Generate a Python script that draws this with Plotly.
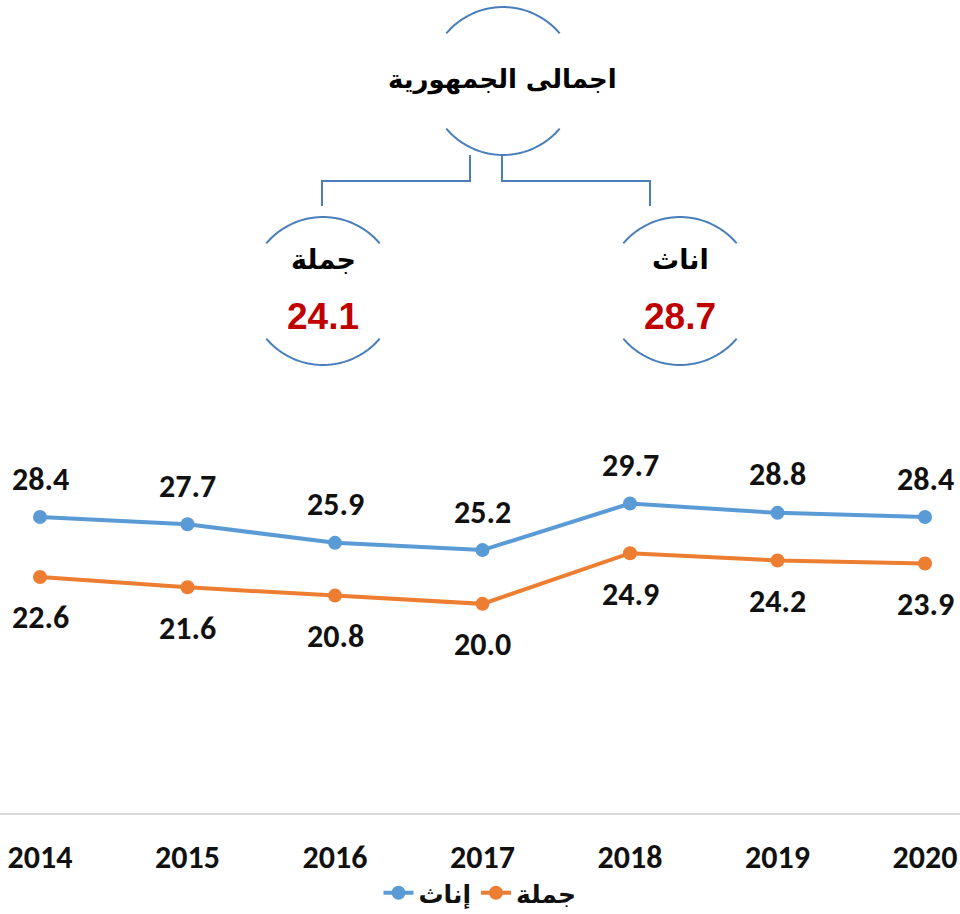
import numpy as np
import plotly.graph_objects as go

# ---------------- data ----------------
years = ["2014", "2015", "2016", "2017", "2018", "2019", "2020"]
females = [28.4, 27.7, 25.9, 25.2, 29.7, 28.8, 28.4]
total = [22.6, 21.6, 20.8, 20.0, 24.9, 24.2, 23.9]
series_names = ["إناث", "جملة"]
title_text = "اجمالى الجمهورية"
summary_labels = ["جملة", "اناث"]
summary_values = [24.1, 28.7]

# ---------------- styling ----------------
BLUE = "#5B9BD5"
ORANGE = "#ED7D31"
ARC = "#4A7EBB"
RED = "#C00000"
W, H_FIG = 960, 914
T, B = 400, 813
PH = B - T


def px(x):
    return x / W


def py(y):
    return (B - y) / PH


def arc(cx, cy, r, a0, a1, n=40):
    a = np.radians(np.linspace(a0, a1, n))
    xs = cx + r * np.cos(a)
    ys = cy - r * np.sin(a)
    return "M " + " L ".join(f"{px(x):.5f},{py(y):.5f}" for x, y in zip(xs, ys))


def poly(pts):
    return "M " + " L ".join(f"{px(x):.5f},{py(y):.5f}" for x, y in pts)


fig = go.Figure()
fig.add_trace(go.Scatter(
    x=years, y=females, name=series_names[0], mode="lines+markers",
    line=dict(color=BLUE, width=4), marker=dict(color=BLUE, size=14),
    hoverinfo="skip"))
fig.add_trace(go.Scatter(
    x=years, y=total, name=series_names[1], mode="lines+markers",
    line=dict(color=ORANGE, width=4), marker=dict(color=ORANGE, size=14),
    hoverinfo="skip"))

label_font = dict(family="Carlito, Lato, Open Sans, sans-serif", size=32, color="#111111", weight="bold")
annotations = []
for i, v in enumerate(females):
    annotations.append(dict(x=i, y=v, xref="x", yref="y", text=f"{v:.1f}",
                            xanchor="center", yanchor="middle",
                            showarrow=False, yshift=38, font=label_font))
for i, v in enumerate(total):
    annotations.append(dict(x=i, y=v, xref="x", yref="y", text=f"{v:.1f}",
                            xanchor="center", yanchor="middle",
                            showarrow=False, yshift=-41, font=label_font))

# top diagram
arab_font = dict(family="DejaVu Sans, Noto Sans, sans-serif", color="#000000", weight="bold")
annotations.append(dict(x=px(502), y=py(80), xref="paper", yref="paper", text=title_text,
                        xanchor="center", yanchor="middle",
                        showarrow=False, font=dict(**arab_font, size=26)))
centers = [(323, 291), (680, 291)]
for (cx, cy), lab, val in zip(centers, summary_labels, summary_values):
    annotations.append(dict(x=px(cx), y=py(259), xref="paper", yref="paper", text=lab,
                            xanchor="center", yanchor="middle",
                            showarrow=False, font=dict(**arab_font, size=27)))
    annotations.append(dict(x=px(cx), y=py(316), xref="paper", yref="paper", text=f"{val:.1f}",
                            xanchor="center", yanchor="middle",
                            showarrow=False,
                            font=dict(family="Liberation Sans, Arial, sans-serif", size=37,
                                      color=RED, weight="bold")))

shapes = []
line_style = dict(color=ARC, width=2)
for (cx, cy) in [(503, 81)] + centers:
    shapes.append(dict(type="path", xref="paper", yref="paper", path=arc(cx, cy, 74, 40, 140), line=line_style))
    shapes.append(dict(type="path", xref="paper", yref="paper", path=arc(cx, cy, 74, 220, 320), line=line_style))
shapes.append(dict(type="path", xref="paper", yref="paper",
                   path=poly([(470, 155), (470, 181), (322, 181), (322, 206)]), line=line_style))
shapes.append(dict(type="path", xref="paper", yref="paper",
                   path=poly([(502, 155), (502, 181), (650, 181), (650, 206)]), line=line_style))

x0 = -40 / 147.5
x1 = 6 + (W - 925) / 147.5
ppu = 10.34
y0 = 28.4 - (B - 517) / ppu
y1 = y0 + PH / ppu

fig.update_layout(
    width=W, height=H_FIG,
    margin=dict(l=0, r=0, t=T, b=H_FIG - B, pad=0, autoexpand=False),
    paper_bgcolor="white", plot_bgcolor="white",
    showlegend=True,
    legend=dict(orientation="h", x=0.5, xanchor="center", y=py(893), yanchor="middle",
                font=dict(family="DejaVu Sans, sans-serif", size=25, color="#111111", weight="bold"),
                bgcolor="rgba(0,0,0,0)"),
    xaxis=dict(type="category", range=[x0, x1], showgrid=False, zeroline=False,
               showline=True, linecolor="#D9D9D9", linewidth=2,
               ticks="", ticklabelstandoff=15,
               tickfont=dict(family="Carlito, Lato, Open Sans, sans-serif", size=32, color="#111111", weight="bold")),
    yaxis=dict(range=[y0, y1], visible=False, showgrid=False, zeroline=False),
    annotations=annotations,
    shapes=shapes,
)

fig.write_html("out.html", config={"displayModeBar": False},
               post_script="document.body.style.margin='0';document.body.style.overflow='hidden';")
